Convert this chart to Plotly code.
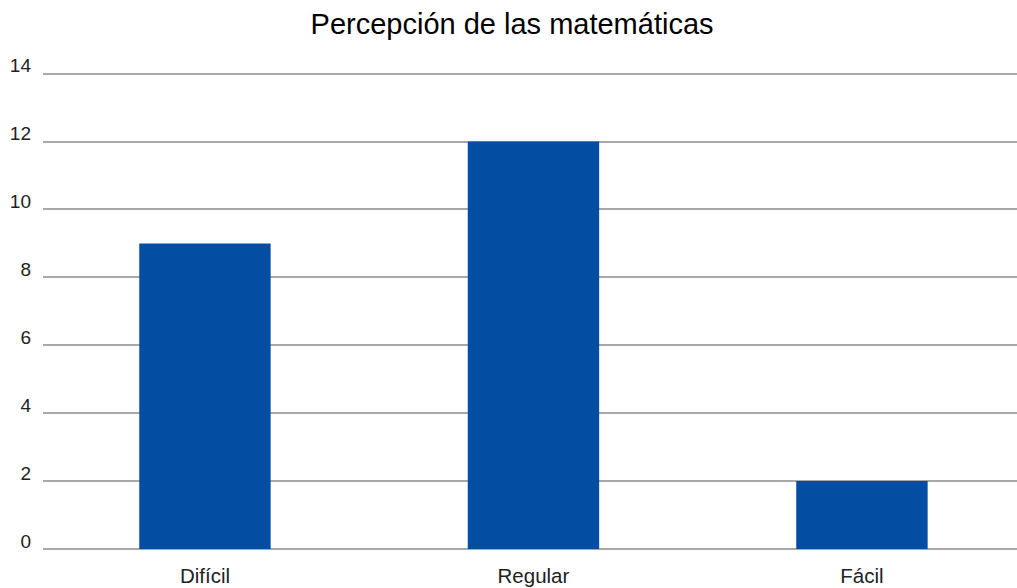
import plotly.graph_objects as go

categories = ["Difícil", "Regular", "Fácil"]
values = [9, 12, 2]
y_ticks = [0, 2, 4, 6, 8, 10, 12, 14]

BAR = "#034ea2"
GRID = "#a8a8a8"
FONT = "Arial, Liberation Sans, sans-serif"
Y_MAX = 14.4
LABEL_SHIFT = 0.24  # labels sit slightly above their gridline

fig = go.Figure()
fig.add_trace(
    go.Bar(x=categories, y=values, marker=dict(color=BAR, line=dict(width=0)),
           width=0.4, hoverinfo="x+y")
)
# invisible companion trace so the label axis is drawn
fig.add_trace(
    go.Scatter(x=categories, y=values, yaxis="y2", mode="markers",
               marker=dict(opacity=0, size=1), hoverinfo="skip", showlegend=False)
)

fig.update_layout(
    width=1017,
    height=588,
    margin=dict(l=43, r=0, t=60, b=39),
    paper_bgcolor="white",
    plot_bgcolor="white",
    font=dict(family=FONT, color="#222222", size=19),
    title=dict(
        text="Percepción de las matemáticas",
        font=dict(family=FONT, size=29, color="#000000"),
        x=0.5035,
        xanchor="center",
        xref="container",
        y=1 - 24 / 588,
        yanchor="middle",
        yref="container",
    ),
    showlegend=False,
    bargap=0.6,
    xaxis=dict(
        type="category",
        range=[-0.493, 2.472],
        showgrid=False,
        showline=False,
        zeroline=False,
        ticks="",
        ticklabelstandoff=12,
        tickfont=dict(size=20.5, color="#222222"),
    ),
    yaxis=dict(
        range=[0, Y_MAX],
        tickvals=y_ticks,
        showgrid=True,
        gridcolor=GRID,
        gridwidth=1.5,
        zeroline=True,
        zerolinecolor=GRID,
        zerolinewidth=1.5,
        showline=False,
        ticks="",
        showticklabels=False,
    ),
    yaxis2=dict(
        overlaying="y",
        side="left",
        anchor="x",
        range=[-LABEL_SHIFT, Y_MAX - LABEL_SHIFT],
        tickvals=y_ticks,
        ticktext=[str(v) for v in y_ticks],
        showgrid=False,
        zeroline=False,
        showline=False,
        ticks="",
        ticklabelstandoff=11,
        tickfont=dict(size=19, color="#222222"),
    ),
)

fig.write_html(
    "out.html",
    config={"displayModeBar": False},
    post_script="document.body.style.margin='0';",
)
